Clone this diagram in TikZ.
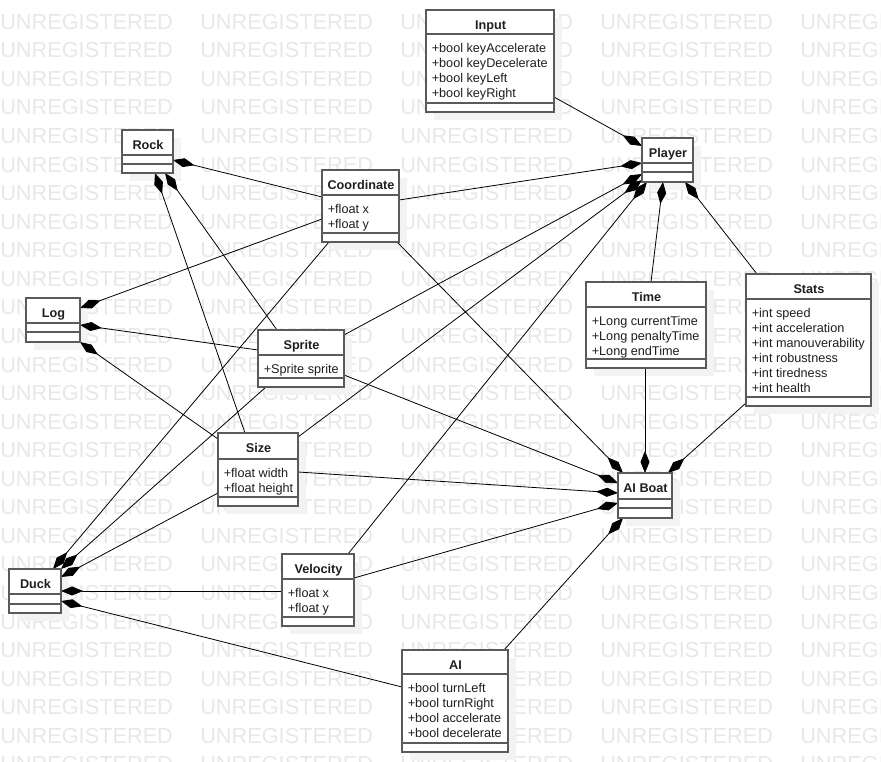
\documentclass[tikz,border=0pt]{standalone}
\usepackage{fontspec}
\setmainfont{Liberation Sans}
\usetikzlibrary{arrows.meta,calc}
\pgfdeclarelayer{wmlayer}
\pgfdeclarelayer{connlayer}
\pgfsetlayers{wmlayer,connlayer,main}
\definecolor{wmc}{RGB}{232,232,232}
\definecolor{shadowc}{RGB}{243,243,243}
\definecolor{boxc}{RGB}{90,90,90}
\tikzset{
 clsbox/.style={draw=boxc, line width=1.1pt, fill=white, rectangle, inner sep=0pt, outer sep=0pt, anchor=north west},
 septline/.style={draw=boxc, line width=1.1pt},
 clstitle/.style={font=\fontsize{9.5}{11}\selectfont\bfseries, text=black!88, inner sep=0pt, anchor=base},
 clsattr/.style={font=\fontsize{9.5}{11}\selectfont, text=black!88, inner sep=0pt, anchor=base west},
 wmtext/.style={font=\fontsize{16.3}{18}\selectfont, text=wmc, inner sep=0pt, anchor=base west},
 comp/.style={draw=black, line width=0.6pt, -{Diamond[length=16.5pt,width=6.75pt,fill=black]}},
}
\newcommand{\umlclass}[8]{%
 \begin{pgfonlayer}{wmlayer}
 \fill[shadowc] (#2+8,#3+8) rectangle ++(#4,#5);
 \end{pgfonlayer}
 \node[clsbox, minimum width=#4*0.75pt, minimum height=#5*0.75pt] (#1) at (#2,#3) {};
 \draw[septline] ($(#1.north west)+(0,#6)$) -- ($(#1.north east)+(0,#6)$);
 \draw[septline] ($(#1.north west)+(0,#7)$) -- ($(#1.north east)+(0,#7)$);
 \node[clstitle] (#1-title) at ($(#1.north)+(0.5,19.5)$) {#8};
}
\newcommand{\umlattrs}[3]{%
 \foreach \t [count=\i from 0] in {#3}
 \node[clsattr] (#1-attr\i) at ($(#1.north west)+(5.5,#2+18.5+15*\i)$) {\t};
}
\begin{document}
\begin{tikzpicture}[x=0.75pt,y=-0.75pt]
\useasboundingbox (0,0) rectangle (881,762);
\begin{pgfonlayer}{wmlayer}
\fill[white] (0,0) rectangle (881,762);
\begin{scope}
\clip (0,0) rectangle (881,762);
\foreach \r in {0,...,26}
 \foreach \c in {0,...,4}
 \node[wmtext] (wm-\r-\c) at (200*\c, 29.3+28.56*\r) {UNREGISTERED};
\end{scope}
\end{pgfonlayer}

\umlclass{Input}{426}{10}{128}{102}{24}{93}{Input}
\umlattrs{Input}{24}{+bool keyAccelerate,+bool keyDecelerate,+bool keyLeft,+bool keyRight}
\umlclass{Player}{642}{138}{51}{44}{25}{34}{Player}
\umlclass{Rock}{122}{130}{51}{43}{25}{34}{Rock}
\umlclass{Coordinate}{322}{170}{77}{72}{25}{63}{Coordinate}
\umlattrs{Coordinate}{25}{+float x,+float y}
\umlclass{Log}{26}{298}{54}{44}{25}{34}{Log}
\umlclass{Sprite}{258}{330}{86}{57}{25}{48}{Sprite}
\umlattrs{Sprite}{25}{+Sprite sprite}
\umlclass{Time}{586}{282}{120}{86}{25}{77}{Time}
\umlattrs{Time}{25}{+Long currentTime,+Long penaltyTime,+Long endTime}
\umlclass{Stats}{746}{274}{125}{132}{25}{123}{Stats}
\umlattrs{Stats}{25}{+int speed,+int acceleration,+int manouverability,+int robustness,+int tiredness,+int health}
\umlclass{Size}{218}{433}{80}{73}{26}{64}{Size}
\umlattrs{Size}{26}{+float width,+float height}
\umlclass{Duck}{9}{569}{52}{44}{25}{35}{Duck}
\umlclass{Velocity}{282}{554}{72}{72}{25}{63}{Velocity}
\umlattrs{Velocity}{25}{+float x,+float y}
\umlclass{AIBoat}{618}{473}{54}{45}{26}{35}{AI Boat}
\umlclass{AI}{402}{650}{106}{102}{24}{93}{AI}
\umlattrs{AI}{24}{+bool turnLeft,+bool turnRight,+bool accelerate,+bool decelerate}

\begin{pgfonlayer}{connlayer}
% Player
\draw[comp] ($(Input.north east)+(0,87)$) -- ($(Player.north west)+(0,8)$);
\draw[comp] ($(Coordinate.north east)+(0,30)$) -- ($(Player.north west)+(0,25)$);
\draw[comp] ($(Sprite.north east)+(0,5)$) -- ($(Player.north west)+(0,36)$);
\draw[comp] ($(Size.north east)+(0,4)$) -- ($(Player.north west)+(0,42)$);
\draw[comp] ($(Velocity.north west)+(66,0)$) -- ($(Player.south west)+(5,0)$);
\draw[comp] ($(Time.north west)+(65,0)$) -- ($(Player.south west)+(21,0)$);
\draw[comp] ($(Stats.north west)+(11,0)$) -- ($(Player.south west)+(43,0)$);
% Rock
\draw[comp] ($(Coordinate.north west)+(0,27)$) -- ($(Rock.north east)+(0,30)$);
\draw[comp] ($(Sprite.north west)+(19,0)$) -- ($(Rock.south west)+(43,0)$);
\draw[comp] ($(Size.north west)+(27,0)$) -- ($(Rock.south west)+(33,0)$);
% Log
\draw[comp] ($(Coordinate.north west)+(0,49)$) -- ($(Log.north east)+(0,10)$);
\draw[comp] ($(Sprite.north west)+(0,20)$) -- ($(Log.north east)+(0,27)$);
\draw[comp] ($(Size.north west)+(0,6)$) -- (Log.south east);
% Duck
\draw[comp] ($(Coordinate.south west)+(7,0)$) -- ($(Duck.north west)+(44,0)$);
\draw[comp] ($(Sprite.south west)+(8,0)$) -- (Duck.north east);
\draw[comp] ($(Size.north west)+(0,60)$) -- ($(Duck.north east)+(0,8)$);
\draw[comp] ($(Velocity.north west)+(0,37)$) -- ($(Duck.north east)+(0,22)$);
\draw[comp] ($(AI.north west)+(0,37)$) -- ($(Duck.north east)+(0,32)$);
% AI Boat
\draw[comp] ($(Coordinate.south east)+(-2,0)$) -- ($(AIBoat.north west)+(5,0)$);
\draw[comp] ($(Sprite.north east)+(0,45)$) -- ($(AIBoat.north west)+(0,10)$);
\draw[comp] ($(Size.north east)+(0,39)$) -- ($(AIBoat.north west)+(0,20)$);
\draw[comp] ($(Velocity.north east)+(0,24)$) -- ($(AIBoat.north west)+(0,30)$);
\draw[comp] ($(AI.north west)+(102,0)$) -- ($(AIBoat.south west)+(5,0)$);
\draw[comp] ($(Time.south west)+(59,0)$) -- ($(AIBoat.north west)+(27,0)$);
\draw[comp] ($(Stats.north west)+(0,129)$) -- ($(AIBoat.north west)+(50,0)$);
\end{pgfonlayer}
\end{tikzpicture}
\end{document}
